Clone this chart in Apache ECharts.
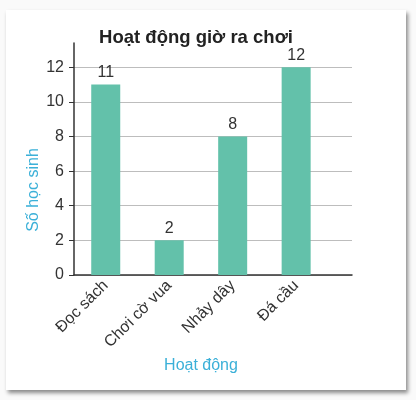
<!DOCTYPE html>
<html>
<head>
<meta charset="utf-8">
<script src="https://cdn.jsdelivr.net/npm/echarts@6/dist/echarts.min.js"></script>
<style>
html,body{margin:0;padding:0;background:#fafafa;}
#wrap{position:relative;width:416px;height:400px;overflow:hidden;}
#card{position:absolute;left:6px;top:10px;width:400px;height:380px;background:#fff;box-shadow:2px 3px 4px rgba(0,0,0,0.45);}
#chart{position:absolute;left:0;top:0;width:416px;height:400px;}
</style>
</head>
<body>
<div id="wrap"><div id="card"></div><div id="chart"></div></div>
<script>
var title = 'Hoạt động giờ ra chơi';
var categories = ['Đọc sách', 'Chơi cờ vua', 'Nhảy dây', 'Đá cầu'];
var values = [11, 2, 8, 12];
var yTicks = [0, 2, 4, 6, 8, 10, 12];
var xName = 'Hoạt động';
var yName = 'Số học sinh';

var chart = echarts.init(document.getElementById('chart'), null, {renderer: 'canvas'});
var font = 'Liberation Sans, Arial, sans-serif';
chart.setOption({
  backgroundColor: 'transparent',
  animation: false,
  title: {
    text: title, left: 191, top: 23, textAlign: 'center',
    textStyle: {fontFamily: font, fontSize: 18.5, fontWeight: 'bold', color: '#222'}
  },
  grid: {left: 74, right: 64, top: 43, bottom: 125},
  xAxis: {
    type: 'value', min: -0.5, max: 3.88, interval: 0.5,
    name: xName, nameLocation: 'middle', nameGap: 82,
    nameTextStyle: {fontFamily: font, fontSize: 16, color: '#3bb0d8', padding: [0, 24, 0, 0]},
    axisLine: {show: true, onZero: false, lineStyle: {color: '#333', width: 1.5}},
    axisTick: {show: false},
    splitLine: {show: false},
    axisLabel: {
      rotate: 45, margin: 8, fontFamily: font, fontSize: 16, color: '#333',
      showMaxLabel: false,
      formatter: function (v) { return Number.isInteger(v) && v >= 0 && v < categories.length ? categories[v] : ''; }
    }
  },
  yAxis: {
    type: 'value', min: yTicks[0], max: 13.4, interval: 2,
    name: yName, nameLocation: 'middle', nameGap: 32, nameRotate: 90, nameMoveOverlap: false,
    nameTextStyle: {fontFamily: font, fontSize: 16, color: '#3bb0d8', padding: [0, 62, 0, 0]},
    axisLine: {show: true, onZero: false, lineStyle: {color: '#333', width: 1.5}},
    axisTick: {show: true, length: 5, lineStyle: {color: '#333'}},
    splitLine: {show: true, showMaxLine: false, lineStyle: {color: '#bdbdbd', width: 1}},
    axisLabel: {showMaxLabel: false, margin: 10, fontFamily: font, fontSize: 16, color: '#333'}
  },
  series: [{
    type: 'bar',
    barWidth: 29,
    data: values.map(function (v, i) { return [i, v]; }),
    itemStyle: {color: '#63c1aa'},
    label: {show: true, position: 'top', distance: 4, fontFamily: font, fontSize: 16, color: '#333',
      formatter: function (p) { return p.value[1]; }}
  }]
});
</script>
</body>
</html>
